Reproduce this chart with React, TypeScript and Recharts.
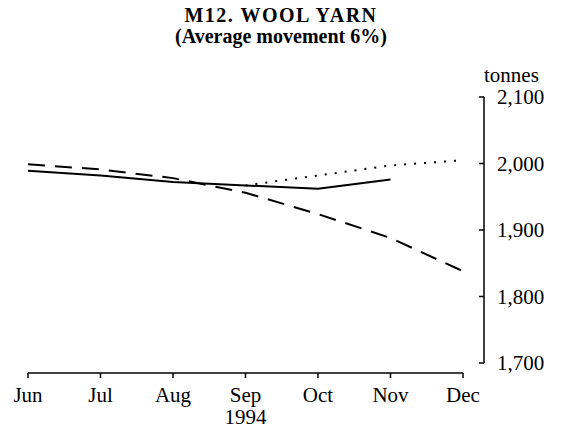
import { LineChart, Line, XAxis, YAxis, ReferenceLine } from "recharts"

const months = ["Jun", "Jul", "Aug", "Sep", "Oct", "Nov", "Dec"]
const actual = [1989, 1982, 1972, 1967, 1962, 1976, null]
const trend = [1999, 1991, 1978, 1956, 1924, 1888, 1838]
const projected = [null, null, null, 1967, 1982, 1997, 2005]
const yTicks = [1700, 1800, 1900, 2000, 2100]
const yearMonth = "Sep"
const yearText = "1994"

const font = "'Liberation Serif', 'Times New Roman', serif"

const data = months.map((m, i) => ({
  month: m,
  actual: actual[i],
  trend: trend[i],
  projected: projected[i]
}))

function MonthTick({ x, y, payload }: any) {
  return (
    <g>
      <line x1={x} x2={x} y1={y + 10} y2={y + 15} stroke="#000" strokeWidth={1.5} />
      <text x={x} y={y + 39} textAnchor="middle" fontFamily={font} fontSize={21} fill="#000">
        {payload.value}
      </text>
      {payload.value === yearMonth && (
        <text x={x} y={y + 61} textAnchor="middle" fontFamily={font} fontSize={21} fill="#000">
          {yearText}
        </text>
      )}
    </g>
  )
}

function ValueTick({ x, y, payload }: any) {
  return (
    <g>
      <line x1={x} x2={x - 5} y1={y} y2={y} stroke="#000" strokeWidth={1.5} />
      <text x={x + 13} y={y + 7} textAnchor="start" fontFamily={font} fontSize={21} fill="#000">
        {payload.value.toLocaleString("en-US")}
      </text>
    </g>
  )
}

export default function App() {
  return (
    <div style={{ position: "absolute", left: 0, top: 0, width: 571, height: 429, background: "#fff" }}>
      <div
        style={{
          position: "absolute",
          left: 0,
          top: 5,
          width: 562,
          textAlign: "center",
          fontFamily: font,
          fontWeight: "bold",
          fontSize: 20,
          lineHeight: "21px"
        }}
      >
        <div style={{ letterSpacing: 1.5 }}>M12. WOOL YARN</div>
        <div>(Average movement 6%)</div>
      </div>
      <div
        style={{
          position: "absolute",
          left: 484,
          top: 63,
          fontFamily: font,
          fontSize: 21,
          lineHeight: "24px"
        }}
      >
        tonnes
      </div>

      <LineChart
        width={571}
        height={429}
        data={data}
        margin={{ top: 97, right: 17, left: 28, bottom: 16 }}
      >
        <XAxis
          dataKey="month"
          axisLine={false}
          tickLine={false}
          tickSize={0}
          tickMargin={0}
          height={50}
          padding={{ left: 0, right: 21 }}
          tick={<MonthTick />}
          interval={0}
        />
        <YAxis
          orientation="right"
          domain={[1700, 2100]}
          ticks={yTicks}
          width={70}
          axisLine={{ stroke: "#000", strokeWidth: 1.5 }}
          tickLine={false}
          tickSize={0}
          tickMargin={0}
          tick={<ValueTick />}
        />
        <ReferenceLine
          segment={[
            { x: "Jun", y: 1685 },
            { x: "Dec", y: 1685 }
          ]}
          ifOverflow="visible"
          stroke="#000"
          strokeWidth={1.5}
        />
        <Line
          dataKey="trend"
          stroke="#000"
          strokeWidth={2}
          strokeDasharray="17 10"
          dot={false}
          isAnimationActive={false}
        />
        <Line
          dataKey="actual"
          stroke="#000"
          strokeWidth={2}
          dot={false}
          isAnimationActive={false}
        />
        <Line
          dataKey="projected"
          stroke="#000"
          strokeWidth={2}
          strokeDasharray="2 8"
          dot={false}
          isAnimationActive={false}
        />
      </LineChart>
    </div>
  )
}
